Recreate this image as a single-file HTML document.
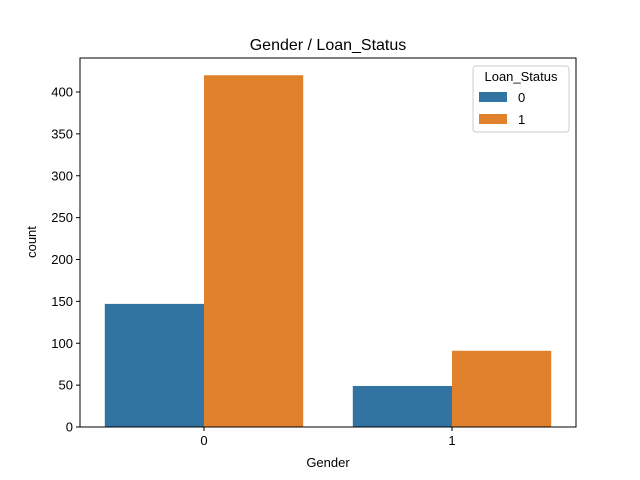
<!DOCTYPE html>
<html><head><meta charset="utf-8"><style>
body{margin:0;background:#fff}
svg{display:block;font-family:"Liberation Sans","DejaVu Sans",sans-serif}
</style></head><body>
<svg id="chart" width="640" height="480" viewBox="0 0 640 480">
<rect width="640" height="480" fill="#fff"/>
<text x="328" y="50" font-size="16" text-anchor="middle">Gender / Loan_Status</text>
<g id="bars"></g>
<g id="axes"></g>
<text x="328" y="467" font-size="13" text-anchor="middle">Gender</text>
<text transform="translate(36,242) rotate(-90)" font-size="13" text-anchor="middle">count</text>
<g>
<rect x="473" y="66" width="96" height="66" rx="3" fill="#fff" fill-opacity="0.8" stroke="#ccc"/>
<text x="521" y="81" font-size="13" text-anchor="middle">Loan_Status</text>
<g><rect x="479" y="92" width="28" height="10" fill="#3274a1"/><text x="518" y="102" font-size="13">0</text></g>
<g><rect x="479" y="114" width="28" height="10" fill="#e1812c"/><text x="518" y="124" font-size="13">1</text></g>
</g>
</svg>
<script>
const categories=["0","1"];
const series0=[147,49];
const series1=[420,91];
const yTicks=[0,50,100,150,200,250,300,350,400];
const L=80,R=576,T=58,B=427;
const x=i=>L+(i+0.5)*(R-L)/2;
const y=v=>B-v*(B-92)/400;
const NS="http://www.w3.org/2000/svg";
const bars=document.getElementById('bars'),axes=document.getElementById('axes');
const bw=(R-L)/2*0.4;
function mk(tag,attrs,parent){const e=document.createElementNS(NS,tag);for(const k in attrs)e.setAttribute(k,attrs[k]);parent.appendChild(e);return e;}
categories.forEach((c,i)=>{
 const b0=mk('rect',{x:x(i)-bw,y:y(series0[i]),width:bw,height:B-y(series0[i]),fill:'#3274a1'},bars);
 
 
 const b1=mk('rect',{x:x(i),y:y(series1[i]),width:bw,height:B-y(series1[i]),fill:'#e1812c'},bars);
 
 
 mk('line',{x1:x(i),x2:x(i),y1:B,y2:B+4,stroke:'#000'},axes);
 const t=mk('text',{x:x(i),y:B+18,'font-size':13,'text-anchor':'middle'},axes);
 t.textContent=c;
 
 
});
yTicks.forEach(v=>{
 mk('line',{x1:L-4,x2:L,y1:y(v),y2:y(v),stroke:'#000'},axes);
 const t=mk('text',{x:L-7,y:y(v)+4.5,'font-size':13,'text-anchor':'end'},axes);
 t.textContent=v;
 
 
});
const f=mk('rect',{x:L,y:T,width:R-L,height:B-T,fill:'none',stroke:'#000','stroke-width':1},axes);


</script>
</body></html>
